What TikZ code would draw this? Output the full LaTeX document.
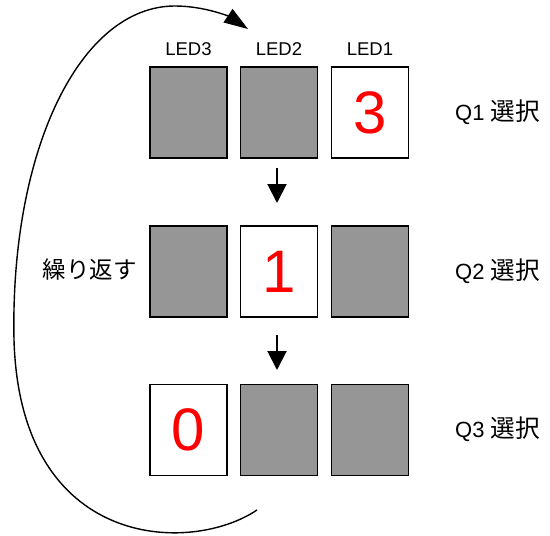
\documentclass[tikz,border=0pt]{standalone}
\usepackage{fontspec}
\setmainfont{Liberation Sans}
\newfontfamily\jp[Scale=1.12]{Noto Sans CJK JP}
\usetikzlibrary{arrows.meta}
\definecolor{ledgray}{HTML}{969696}
\begin{document}
\begin{tikzpicture}[x=1pt,y=-1pt,
  led/.style={draw=black,line width=1.8pt,minimum width=77pt,minimum height=91pt,inner sep=0pt},
  off/.style={led,fill=ledgray},
  on/.style={led,fill=white,text=red,font=\fontsize{60}{60}\selectfont},
  ledlbl/.style={font=\fontsize{18.5}{18.5}\selectfont,inner sep=0pt},
  qlbl/.style={font=\fontsize{22}{22}\selectfont,inner sep=0pt},
  replbl/.style={font=\fontsize{21}{21}\selectfont,inner sep=0pt},
  down/.style={line width=2pt,-{Triangle[length=19pt,width=19pt]}},
  loop/.style={line width=1.4pt,-{Triangle[length=24pt,width=16pt]}}]
\useasboundingbox (0,0) rectangle (550,536);
% row 1
\node[off] (a3) at (188.5,112.5) {};
\node[off] (a2) at (279,112.5) {};
\node[on]  (a1) at (370,112.5) {3};
% row 2
\node[off] (b3) at (188.5,271.5) {};
\node[on]  (b2) at (279,271.5) {1};
\node[off] (b1) at (370,271.5) {};
% row 3
\node[on]  (c3) at (188.5,430) {0};
\node[off] (c2) at (279,430) {};
\node[off] (c1) at (370,430) {};
% LED labels
\node[ledlbl] (l3) at (188.5,49) {LED3};
\node[ledlbl] (l2) at (279,49) {LED2};
\node[ledlbl] (l1) at (370,49) {LED1};
% Q labels
\node[qlbl,anchor=west] (q1) at (455,112) {Q1 {\jp 選択}};
\node[qlbl,anchor=west] (q2) at (455,271) {Q2 {\jp 選択}};
\node[qlbl,anchor=west] (q3) at (455,429) {Q3 {\jp 選択}};
% repeat label
\node[replbl] (rep) at (90,270) {\jp 繰り返す};
% down arrows
\coordinate (d1s) at (277,168);
\coordinate (d1e) at (277,203);
\coordinate (d2s) at (277,335);
\coordinate (d2e) at (277,370);
\draw[down] (d1s) -- (d1e);
\draw[down] (d2s) -- (d2e);
% loop curve
\coordinate (ls) at (257,510);
\coordinate (lm) at (14,340);
\coordinate (lt) at (175,6);
\coordinate (le) at (248,29);
\draw[loop] (ls) .. controls (190,555) and (20,550) .. (lm)
  .. controls (10,150) and (80,6) .. (lt)
  .. controls (205,6) and (230,17) .. (le);
\end{tikzpicture}
\end{document}
